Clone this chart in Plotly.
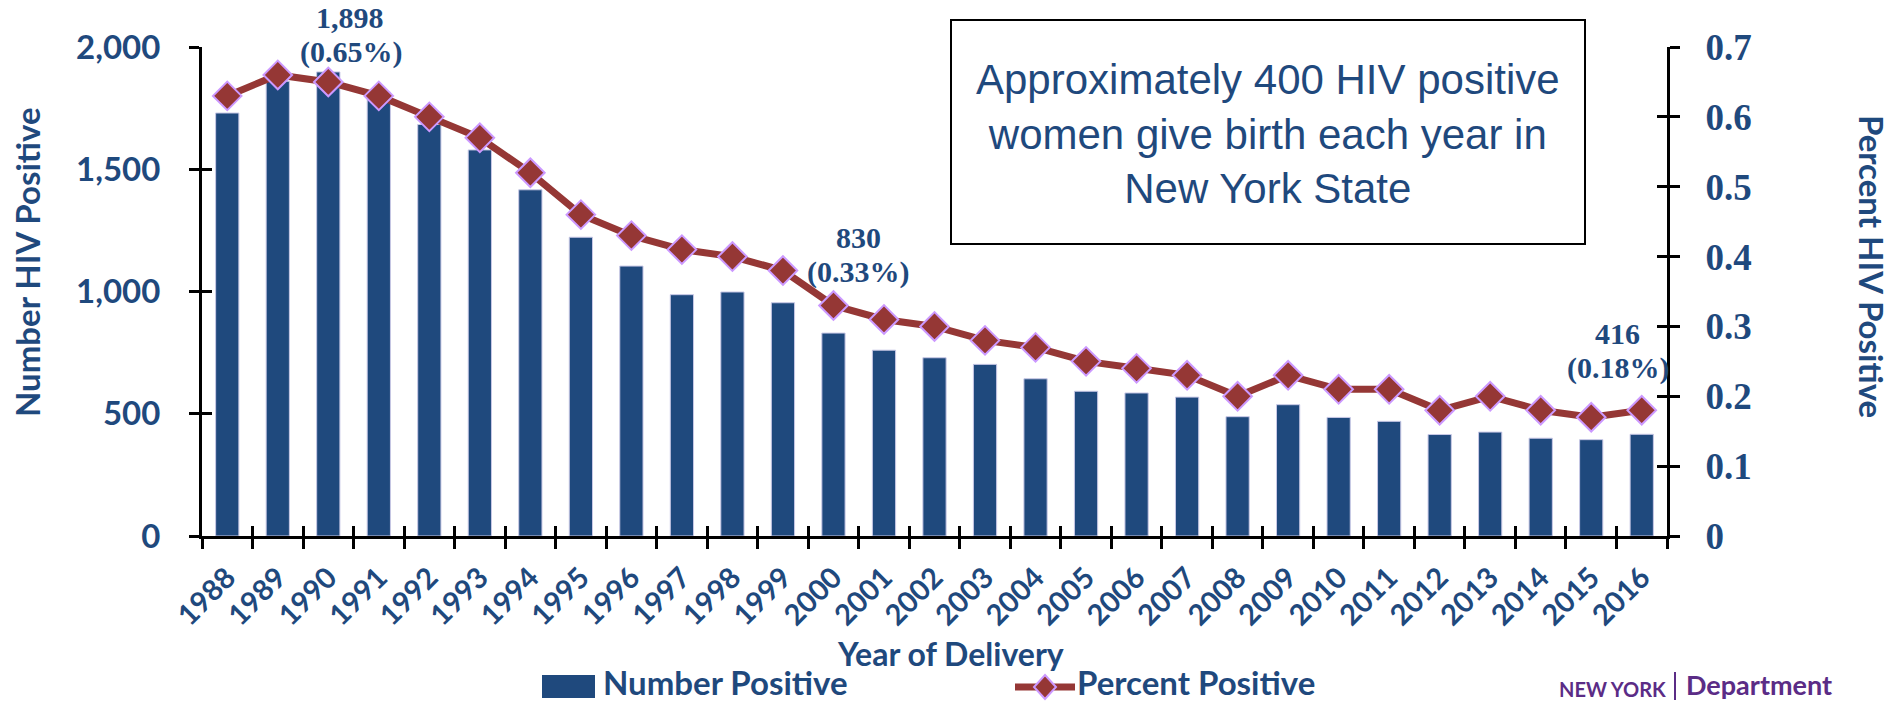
import plotly.graph_objects as go

# ---------------- data ----------------
years = [str(y) for y in range(1988, 2017)]
number_positive = [1730, 1860, 1898, 1815, 1683, 1579, 1416, 1222, 1104, 987,
                   998, 954, 830, 760, 729, 702, 643, 592, 585, 568,
                   488, 537, 485, 469, 415, 425, 400, 394, 416]
percent_positive = [0.63, 0.66, 0.65, 0.63, 0.60, 0.57, 0.52, 0.46, 0.43, 0.41,
                    0.40, 0.38, 0.33, 0.31, 0.30, 0.28, 0.27, 0.25, 0.24, 0.23,
                    0.20, 0.23, 0.21, 0.21, 0.18, 0.20, 0.18, 0.17, 0.18]
left_ticks = [0, 500, 1000, 1500, 2000]
right_ticks = [0, 0.1, 0.2, 0.3, 0.4, 0.5, 0.6, 0.7]
callout_years = ["1990", "2000", "2016"]
callout_counts = ["1,898", "830", "416"]
callout_pcts = ["(0.65%)", "(0.33%)", "(0.18%)"]
box_text = "Approximately 400 HIV positive<br>women give birth each year in<br>New York State"

# ---------------- styling ----------------
BLUE = "#1F497D"
RED = "#953735"
LAV = "#CC99FF"
PURPLE = "#5B2C86"
W, H = 1895, 703
L, R, T, B = 202, 1667, 47, 536

def px(X):
    return (X - L) / (R - L)

def py(Y):
    return (B - Y) / (B - T)

fig = go.Figure()
fig.add_trace(go.Bar(
    x=years, y=number_positive, name="Number Positive",
    marker=dict(color=BLUE, line=dict(color="#C8C8E6", width=1)),
    showlegend=False,
))
fig.add_trace(go.Scatter(
    x=years, y=percent_positive, yaxis="y2", name="Percent Positive",
    mode="lines+markers",
    line=dict(color=RED, width=7),
    marker=dict(symbol="diamond", size=22, color=RED, line=dict(color=LAV, width=2)),
    showlegend=False,
))
# dummy traces for inside-tick overlay axes (cross ticks)
fig.add_trace(go.Scatter(x=[None], y=[None], xaxis="x2", yaxis="y3", showlegend=False, hoverinfo="skip"))
fig.add_trace(go.Scatter(x=[None], y=[None], xaxis="x2", yaxis="y4", showlegend=False, hoverinfo="skip"))

sans = "Lato"
serif = "Liberation Serif"

fig.update_layout(
    width=W, height=H,
    margin=dict(l=L, r=W - R, t=T, b=H - B, pad=0),
    plot_bgcolor="white", paper_bgcolor="white",
    bargap=0.54,
    xaxis=dict(
        type="category", range=[-0.5, len(years) - 0.5],
        showline=True, linecolor="black", linewidth=3,
        ticks="outside", tickson="boundaries", ticklen=10, tickwidth=3, tickcolor="black",
        tickangle=-45, tickfont=dict(family=sans, size=29, color=BLUE, weight="bold"),
        ticklabelstandoff=10,
        showgrid=False, zeroline=False,
    ),
    xaxis2=dict(
        overlaying="x", anchor="y", range=[-0.5, len(years) - 0.5],
        tick0=-0.5, dtick=1, ticks="inside", ticklen=10, tickwidth=3, tickcolor="black",
        showticklabels=False, showline=False, showgrid=False, zeroline=False,
    ),
    yaxis=dict(
        range=[0, 2000], tickvals=left_ticks, tickformat=",",
        showline=True, linecolor="black", linewidth=3,
        ticks="outside", ticklen=10, tickwidth=3, tickcolor="black",
        tickfont=dict(family=sans, size=33, color=BLUE, weight="bold"),
        ticklabelstandoff=22,
        showgrid=False, zeroline=False,
    ),
    yaxis2=dict(
        overlaying="y", side="right", anchor="x", range=[0, 0.7], tickvals=right_ticks,
        showline=True, linecolor="black", linewidth=3,
        ticks="outside", ticklen=10, tickwidth=3, tickcolor="black",
        tickfont=dict(family=serif, size=37, color=BLUE, weight="bold"),
        ticklabelstandoff=18,
        showgrid=False, zeroline=False,
    ),
    yaxis3=dict(
        overlaying="y", side="left", anchor="x", range=[0, 2000], tickvals=left_ticks,
        ticks="inside", ticklen=10, tickwidth=3, tickcolor="black",
        showticklabels=False, showline=False, showgrid=False, zeroline=False,
    ),
    yaxis4=dict(
        overlaying="y", side="right", anchor="x", range=[0, 0.7], tickvals=right_ticks,
        ticks="inside", ticklen=10, tickwidth=3, tickcolor="black",
        showticklabels=False, showline=False, showgrid=False, zeroline=False,
    ),
)

ann = []
# axis titles
ann.append(dict(x=px(27), y=py(262), xref="paper", yref="paper", text="Number HIV Positive",
                textangle=-90, showarrow=False, xanchor="center", yanchor="middle",
                font=dict(family=sans, size=33, color=BLUE, weight="bold")))
ann.append(dict(x=px(1872), y=py(266), xref="paper", yref="paper", text="Percent HIV Positive",
                textangle=90, showarrow=False, xanchor="center", yanchor="middle",
                font=dict(family=sans, size=33, color=BLUE, weight="bold")))
ann.append(dict(x=px(950), y=py(653), xref="paper", yref="paper", text="Year of Delivery",
                showarrow=False, xanchor="center", yanchor="middle",
                font=dict(family=sans, size=32, color=BLUE, weight="bold")))

# callouts
count_pos = [(350, 18), (858, 237), (1617, 333)]
pct_pos = [(351, 52), (858, 272), (1618, 368)]
for i in range(len(callout_years)):
    ann.append(dict(x=px(count_pos[i][0]), y=py(count_pos[i][1]), xref="paper", yref="paper",
                    text=callout_counts[i], showarrow=False, xanchor="center", yanchor="middle",
                    font=dict(family=serif, size=30, color=BLUE, weight="bold")))
    ann.append(dict(x=px(pct_pos[i][0]), y=py(pct_pos[i][1]), xref="paper", yref="paper",
                    text=callout_pcts[i], showarrow=False, xanchor="center", yanchor="middle",
                    font=dict(family=serif, size=30, color=BLUE, weight="bold")))

# text box
ann.append(dict(x=px(1268), y=py(134), xref="paper", yref="paper", text=box_text,
                showarrow=False, xanchor="center", yanchor="middle", align="center",
                font=dict(family="Liberation Sans", size=42, color=BLUE)))

# legend texts
ann.append(dict(x=px(601), y=py(682), xref="paper", yref="paper", text="Number Positive",
                showarrow=False, xanchor="left", yanchor="middle",
                font=dict(family=sans, size=33, color=BLUE, weight="bold")))
ann.append(dict(x=px(1075), y=py(682), xref="paper", yref="paper", text="Percent Positive",
                showarrow=False, xanchor="left", yanchor="middle",
                font=dict(family=sans, size=33, color=BLUE, weight="bold")))

# logo text (kept fully inside the page)
ann.append(dict(x=px(1612), y=py(703), xref="paper", yref="paper", text="NEW YORK",
                showarrow=False, xanchor="center", yanchor="bottom",
                font=dict(family=sans, size=20, color=PURPLE, weight="bold")))
ann.append(dict(x=px(1684), y=py(703), xref="paper", yref="paper", text="Department",
                showarrow=False, xanchor="left", yanchor="bottom",
                font=dict(family=sans, size=27, color=PURPLE, weight="bold")))

fig.update_layout(annotations=ann)

shapes = []
shapes.append(dict(type="rect", xref="paper", yref="paper",
                   x0=px(951), x1=px(1585), y0=py(20), y1=py(244),
                   line=dict(color="black", width=2), fillcolor="rgba(0,0,0,0)"))
# legend symbols
shapes.append(dict(type="rect", xref="paper", yref="paper",
                   x0=px(542), x1=px(595), y0=py(675), y1=py(698),
                   line=dict(width=0), fillcolor=BLUE))
shapes.append(dict(type="line", xref="paper", yref="paper",
                   x0=px(1015), x1=px(1075), y0=py(687), y1=py(687),
                   line=dict(color=RED, width=7)))
cx, cy = 1045, 687
shapes.append(dict(type="path", xref="paper", yref="paper",
                   path=f"M {px(cx)},{py(cy-12)} L {px(cx+11)},{py(cy)} L {px(cx)},{py(cy+12)} L {px(cx-11)},{py(cy)} Z",
                   fillcolor=RED, line=dict(color=LAV, width=2)))
# logo divider
shapes.append(dict(type="line", xref="paper", yref="paper",
                   x0=px(1675), x1=px(1675), y0=py(672), y1=py(700),
                   line=dict(color=PURPLE, width=2)))
fig.update_layout(shapes=shapes)

fig.write_html("out.html", config={"displayModeBar": False},
               post_script="document.body.style.margin='0';document.body.style.overflow='hidden';")
